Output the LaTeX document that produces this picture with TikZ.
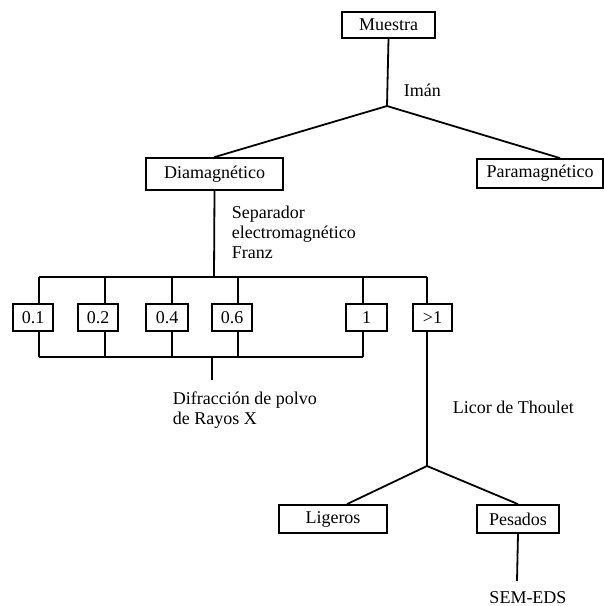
\documentclass[tikz,border=0pt]{standalone}
\usepackage{fontspec}
\setmainfont{Liberation Serif}
\usepackage{tikz}
\usetikzlibrary{calc}

\begin{document}
\begin{tikzpicture}[x=0.5pt,y=-0.5pt,line width=0.9pt,
  font=\fontsize{9}{10}\selectfont,
  caja/.style={draw,inner sep=0pt,minimum height=13.5pt},
  nota/.style={anchor=west,align=left,inner sep=0pt}]
  \useasboundingbox (0,0) rectangle (604,606);
  \node[caja,minimum width=46.5pt,minimum height=13pt] (muestra) at (388.5,25) {Muestra};
  \node[caja,minimum width=68.5pt,minimum height=16pt] (dia) at (214.5,174) {Diamagnético};
  \node[caja,minimum width=63pt,minimum height=14.5pt] (para) at (540,173.5) {Paramagnético};
  \node[caja,minimum width=20pt] (b01) at (33,317.5) {0.1};
  \node[caja,minimum width=20pt] (b02) at (98,317.5) {0.2};
  \node[caja,minimum width=21pt] (b04) at (167,317.5) {0.4};
  \node[caja,minimum width=20pt] (b06) at (232,317.5) {0.6};
  \node[caja,minimum width=20.5pt] (b1) at (366.5,317.5) {1};
  \node[caja,minimum width=19.5pt] (bg1) at (432.5,317.5) {>1};
  \node[caja,minimum width=54pt,minimum height=14pt] (lig) at (333,519) {Ligeros};
  \node[caja,minimum width=41pt,minimum height=14pt] (pes) at (518,519) {Pesados};

  \coordinate (j1) at (387,106);
  \coordinate (j2) at (427,466);
  \draw (muestra.south) -- (j1) -- (dia.north);
  \draw (j1) -- ([xshift=10pt]para.north);
  \node[nota] (iman) at (403,90) {Imán};

  \coordinate (bs) at (214,277);
  \draw (dia.south) -- (bs);
  \node[nota] (sep) at (231,232) {Separador\\electromagnético\\Franz};
  \draw (39,277) -- (427,277);
  \draw (39,357) -- (363,357);
  \foreach \n/\x in {b01/39,b02/105,b04/172,b06/238,b1/363}{
    \coordinate (u\n) at (\x,277);
    \coordinate (l\n) at (\x,357);
    \draw (u\n) -- (u\n |- \n.north);
    \draw (l\n |- \n.south) -- (l\n);
  }
  \coordinate (ubg1) at (427,277);
  \draw (ubg1) -- (ubg1 |- bg1.north);

  \coordinate (dx) at (212,357);
  \coordinate (dxe) at (212,380);
  \draw (dx) -- (dxe);
  \node[nota] (dif) at (172,410) {Difracción de polvo\\de Rayos X};

  \draw (j2 |- bg1.south) -- (j2);
  \node[nota] (licor) at (452,407) {Licor de Thoulet};
  \draw ([xshift=7pt]lig.north) -- (j2) -- (pes.north);

  \coordinate (se) at (517,581);
  \draw (pes.south) -- (se);
  \node (sem) at (528,598) {SEM-EDS};
\end{tikzpicture}
\end{document}
